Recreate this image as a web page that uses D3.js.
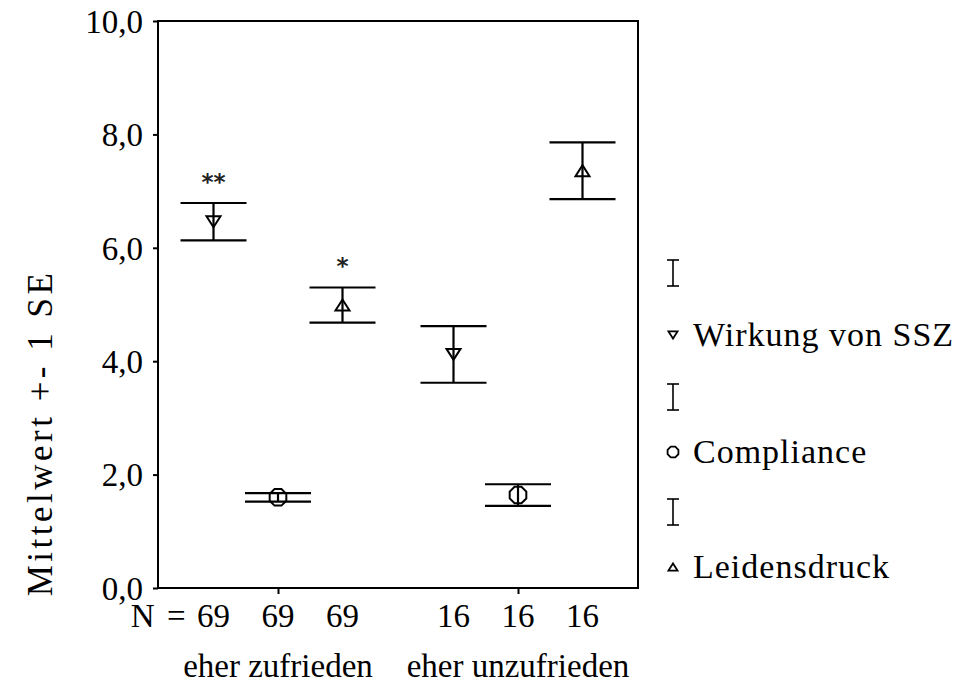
<!DOCTYPE html>
<html>
<head>
<meta charset="utf-8">
<script src="https://cdn.jsdelivr.net/npm/d3@7"></script>
<style>
  html, body { margin: 0; padding: 0; background: #fff; }
  svg { display: block; }
</style>
</head>
<body>
<svg id="chart" width="962" height="686"></svg>
<script>
// Groups on the x axis and the three measured variables
const groups = ["eher zufrieden", "eher unzufrieden"];
const series = ["Wirkung von SSZ", "Compliance", "Leidensdruck"];
const groupN = [69, 16];

// Mean per group for each variable
const meanWirkung = [6.46, 4.12];
const meanCompliance = [1.60, 1.64];
const meanLeidensdruck = [4.99, 7.36];

// Standard error per group for each variable
const seWirkung = [0.33, 0.50];
const seCompliance = [0.075, 0.19];
const seLeidensdruck = [0.31, 0.50];

// Significance marks printed above the bars
const sigWirkung = ["**", ""];
const sigCompliance = ["", ""];
const sigLeidensdruck = ["*", ""];

const yTicks = [0, 2, 4, 6, 8, 10];

const seriesData = [
  { name: series[0], marker: "down", mean: meanWirkung, se: seWirkung, sig: sigWirkung },
  { name: series[1], marker: "oct", mean: meanCompliance, se: seCompliance, sig: sigCompliance },
  { name: series[2], marker: "up", mean: meanLeidensdruck, se: seLeidensdruck, sig: sigLeidensdruck }
];

const SERIF = "'Liberation Serif', 'Times New Roman', serif";

const svg = d3.select("#chart");
const plot = { left: 158, right: 638, top: 21, bottom: 588 };

const y = d3.scaleLinear().domain([0, 10]).range([plot.bottom, plot.top]);
const xGroup = d3.scalePoint().domain(groups).range([plot.left, plot.right]).padding(0.5);
const xSeries = d3.scalePoint().domain(series).range([-64.5, 64.5]);

// Marker outlines
function markerPath(type, s) {
  if (type === "down") {
    const w = 7 * s, h = 5.5 * s;
    return `M${-w},${-h}L${w},${-h}L0,${h}Z`;
  }
  if (type === "up") {
    const w = 7 * s, h = 5.5 * s;
    return `M${-w},${h}L${w},${h}L0,${-h}Z`;
  }
  const r = 9 * s;
  const pts = d3.range(8).map(i => {
    const a = Math.PI / 8 + i * Math.PI / 4;
    return [r * Math.cos(a), r * Math.sin(a)];
  });
  return "M" + pts.map(p => p.join(",")).join("L") + "Z";
}

function label(x, yPos, txt, size) {
  return svg.append("text")
    .attr("x", x).attr("y", yPos)
    .attr("font-family", SERIF).attr("font-size", size)
    .attr("fill", "#000")
    .text(txt);
}

// Frame
svg.append("rect")
  .attr("x", plot.left).attr("y", plot.top)
  .attr("width", plot.right - plot.left).attr("height", plot.bottom - plot.top)
  .attr("fill", "none").attr("stroke", "#000").attr("stroke-width", 2);

// Y axis
const yAxis = d3.axisLeft(y).tickValues(yTicks).tickSize(5).tickPadding(10)
  .tickFormat(d => d3.format(".1f")(d).replace(".", ","));
const gy = svg.append("g").attr("transform", `translate(${plot.left},0)`).call(yAxis)
  .attr("font-family", SERIF).attr("font-size", 33);
gy.select(".domain").remove();
gy.selectAll(".tick line").attr("stroke", "#000").attr("stroke-width", 2);
gy.selectAll(".tick text").attr("fill", "#000").attr("dy", "0.34em");

// X axis: ticks at the group centres
const xAxis = d3.axisBottom(xGroup).tickSize(6).tickFormat("");
const gx = svg.append("g").attr("transform", `translate(0,${plot.bottom})`).call(xAxis);
gx.select(".domain").remove();
gx.selectAll(".tick line").attr("stroke", "#000").attr("stroke-width", 2);

// Error bars and markers
const capHalf = 33;
seriesData.forEach(s => {
  groups.forEach((g, i) => {
    const cx = xGroup(g) + xSeries(s.name);
    const m = s.mean[i], e = s.se[i];
    const gb = svg.append("g").attr("stroke", "#000").attr("stroke-width", 2.2).attr("fill", "none");
    gb.append("line").attr("x1", cx).attr("x2", cx).attr("y1", y(m + e)).attr("y2", y(m - e));
    gb.append("line").attr("x1", cx - capHalf).attr("x2", cx + capHalf).attr("y1", y(m + e)).attr("y2", y(m + e));
    gb.append("line").attr("x1", cx - capHalf).attr("x2", cx + capHalf).attr("y1", y(m - e)).attr("y2", y(m - e));
    gb.append("path").attr("d", markerPath(s.marker, 1))
      .attr("transform", `translate(${cx},${y(m)})`).attr("stroke-width", 2);
    if (s.sig[i]) {
      svg.append("text")
        .attr("x", cx).attr("y", y(m + e) - 13)
        .attr("text-anchor", "middle")
        .attr("font-size", 23).attr("font-weight", "bold")
        .attr("font-family", "'DejaVu Sans', sans-serif")
        .attr("fill", "#222")
        .text(s.sig[i]);
    }
    // N under each bar
    label(cx, 627, groupN[i], 33).attr("text-anchor", "middle");
  });
});

// "N =" prefix
label(xGroup(groups[0]) + xSeries(series[0]) - 28, 627, "N =", 33)
  .attr("text-anchor", "end").attr("word-spacing", 4);

// Group labels
groups.forEach(g => {
  label(xGroup(g), 677, g, 33).attr("text-anchor", "middle");
});

// Y axis title
label(0, 0, "Mittelwert +- 1 SE", 35)
  .attr("transform", `translate(52,433) rotate(-90)`)
  .attr("text-anchor", "middle")
  .attr("letter-spacing", 3.5);

// Legend: an error bar symbol above each marker entry
const legendX = 673;
const legendRows = [
  { bar: 273, item: 335 },
  { bar: 397, item: 452 },
  { bar: 512, item: 567 }
];
seriesData.forEach((s, i) => {
  const r = legendRows[i];
  const lg = svg.append("g").attr("stroke", "#000").attr("stroke-width", 1.6).attr("fill", "none");
  lg.append("line").attr("x1", legendX).attr("x2", legendX).attr("y1", r.bar - 13).attr("y2", r.bar + 13);
  lg.append("line").attr("x1", legendX - 6).attr("x2", legendX + 6).attr("y1", r.bar - 13).attr("y2", r.bar - 13);
  lg.append("line").attr("x1", legendX - 6).attr("x2", legendX + 6).attr("y1", r.bar + 13).attr("y2", r.bar + 13);
  lg.append("path").attr("d", markerPath(s.marker, 0.65))
    .attr("transform", `translate(${legendX},${r.item})`).attr("stroke-width", 1.8);
  label(693, r.item + 11, s.name, 34).attr("letter-spacing", 1);
});
</script>
</body>
</html>
